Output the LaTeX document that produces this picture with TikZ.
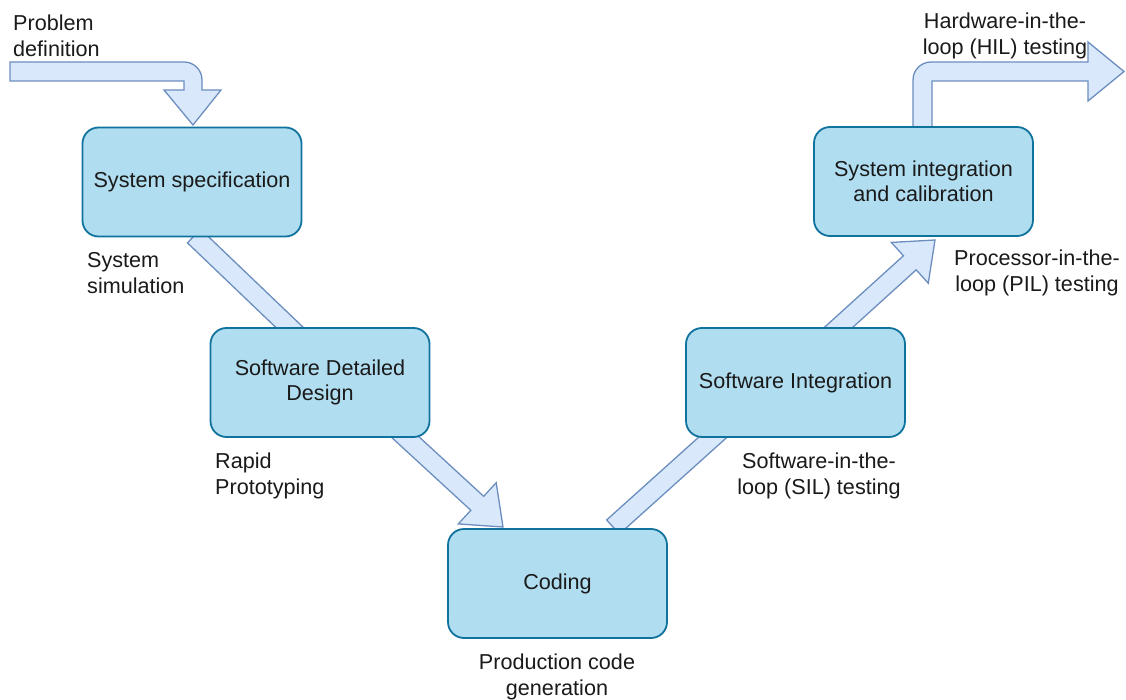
\documentclass[tikz,border=0pt]{standalone}
\usepackage{fontspec}
\setmainfont{Liberation Sans}
\usetikzlibrary{calc}
\pgfdeclarelayer{bg}
\pgfsetlayers{bg,main}
\definecolor{boxfill}{HTML}{B1DDF0}
\definecolor{boxline}{HTML}{10739E}
\definecolor{arfill}{HTML}{DAE8FC}
\definecolor{arline}{HTML}{6C8EBF}
\definecolor{txt}{HTML}{1A1A1A}
\tikzset{
  stage/.style={draw=boxline, fill=boxfill, line width=1.8pt, rounded corners=16pt,
    minimum width=219pt, minimum height=109pt, align=center, text=txt,
    font=\fontsize{21.6}{25.5}\selectfont, inner sep=0pt},
  lbl/.style={text=txt, font=\fontsize{21.6}{25.5}\selectfont, inner sep=0pt},
  fa/.style={draw=arline, fill=arfill, line width=1.3pt, line join=miter},
}
\newcommand\flexhead[5]{% start, tip, half shaft, half head, head length
  \filldraw[fa] ($(#1)!#3!90:(#2)$) -- ($(#2)!#5!(#1)!#3!90:(#2)$) -- ($(#2)!#5!(#1)!#4!90:(#2)$) -- (#2)
    -- ($(#2)!#5!(#1)!#4!-90:(#2)$) -- ($(#2)!#5!(#1)!#3!-90:(#2)$) -- ($(#1)!#3!-90:(#2)$) -- cycle;}
\newcommand\flexshaft[3]{% start, end, half shaft
  \filldraw[fa] ($(#1)!#3!90:(#2)$) -- ($(#2)!#3!-90:(#1)$) -- ($(#2)!#3!90:(#1)$) -- ($(#1)!#3!-90:(#2)$) -- cycle;}
\begin{document}
\begin{tikzpicture}[x=1pt, y=-1pt]
\useasboundingbox (0,0) rectangle (1126,700);

% stages
\node[stage] (spec) at (192,182) {System specification};
\node[stage] (sdd) at (320,382.5) {Software Detailed\\Design};
\node[stage] (cod) at (557.5,583.5) {Coding};
\node[stage] (si) at (795.5,382.5) {Software Integration};
\node[stage] (sys) at (923.5,181.5) {System integration\\and calibration};

% labels
\node[lbl, anchor=west, align=left] (lpd) at (13,36) {Problem\\definition};
\node[lbl, anchor=west, align=left] (lss) at (87,273) {System\\simulation};
\node[lbl, anchor=west, align=left] (lrp) at (215,476) {Rapid\\Prototyping};
\node[lbl, align=center] (lpc) at (557,677) {Production code\\generation};
\node[lbl, align=center] (lsil) at (819,476) {Software-in-the-\\loop (SIL) testing};
\node[lbl, align=center] (lpil) at (1037,273) {Processor-in-the-\\loop (PIL) testing};
\node[lbl, align=center] (lhil) at (1005,36) {Hardware-in-the-\\loop (HIL) testing};

% connector end points
\coordinate (a1s) at (194,236);
\coordinate (a1e) at (309,346);
\coordinate (a2s) at (378,412);
\coordinate (a2e) at (503,527);
\coordinate (a3s) at (613,527);
\coordinate (a3e) at (732,420);
\coordinate (a4s) at (787,374);
\coordinate (a4e) at (935,240);

\begin{pgfonlayer}{bg}
  \fill[white] (0,0) rectangle (1126,700);
  % problem definition input arrow
  \filldraw[fa] (10,81) -- (10,62) -- (184,62) .. controls (194,62) and (202,70) .. (202,80)
    -- (202,90) -- (221,90) -- (193,125) -- (164,90) -- (184,90) -- (184,81) -- cycle;
  % HIL output arrow
  \filldraw[fa] (913,140) -- (913,80) .. controls (913,70) and (921,62) .. (931,62)
    -- (1088,62) -- (1088,42) -- (1124,71.5) -- (1088,101) -- (1088,81) -- (932,81) -- (932,140) -- cycle;
  % V connectors
  \flexshaft{a1s}{a1e}{9.5pt}
  \flexhead{a2s}{a2e}{9.5pt}{28pt}{35pt}
  \flexshaft{a3s}{a3e}{9.5pt}
  \flexhead{a4s}{a4e}{9.5pt}{27.5pt}{34pt}
\end{pgfonlayer}
\end{tikzpicture}
\end{document}
